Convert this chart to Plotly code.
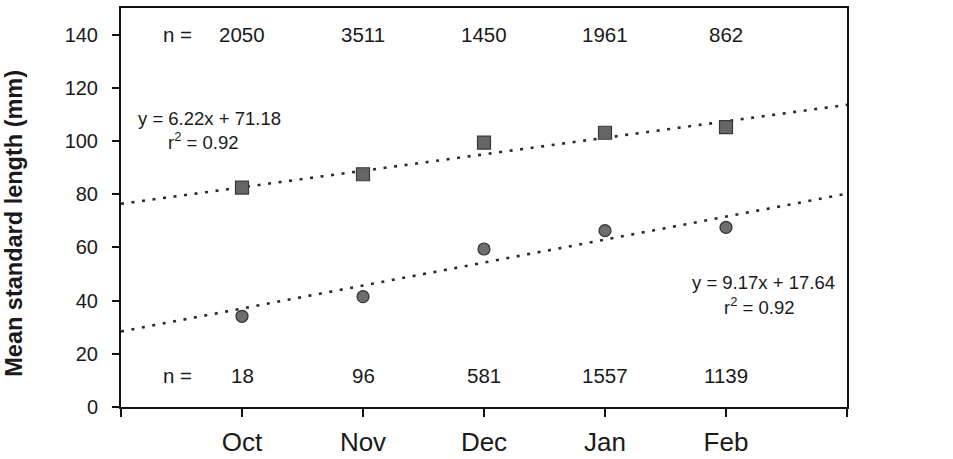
import plotly.graph_objects as go

# ---- data ----
months = ["Oct", "Nov", "Dec", "Jan", "Feb"]
cohort2_length = [82.5, 87.5, 99.4, 103.1, 105.2]   # squares (Cohort II)
cohort1_length = [34.1, 41.5, 59.4, 66.3, 67.5]     # circles (Cohort I)
n_cohort2 = [2050, 3511, 1450, 1961, 862]
n_cohort1 = [18, 96, 581, 1557, 1139]
trend_x = [0, 6]                  # trend lines span the whole category axis
trend2_values = [76.4, 113.6]     # Cohort II trend line at the axis ends
trend1_values = [28.4, 80.2]      # Cohort I trend line at the axis ends
eq2_text = "y = 6.22x + 71.18"
eq1_text = "y = 9.17x + 17.64"
r2_text = "r<sup>2</sup> = 0.92"
y_ticks = [0, 20, 40, 60, 80, 100, 120, 140]

xpos = list(range(1, len(months) + 1))
FONT = "Liberation Sans, Arial, sans-serif"
TXT = "#1a1a1a"

fig = go.Figure()

dot = "3px,7.6px"
fig.add_trace(go.Scatter(x=trend_x, y=trend2_values, mode="lines",
                         line=dict(color="#2a2a2a", width=2.6, dash=dot),
                         hoverinfo="skip", showlegend=False))
fig.add_trace(go.Scatter(x=trend_x, y=trend1_values, mode="lines",
                         line=dict(color="#2a2a2a", width=2.6, dash=dot),
                         hoverinfo="skip", showlegend=False))

fig.add_trace(go.Scatter(x=xpos, y=cohort2_length, mode="markers", name="Cohort II",
                         marker=dict(symbol="square", size=13, color="#666666",
                                     line=dict(color="#3a3a3a", width=1.2)),
                         showlegend=False))
fig.add_trace(go.Scatter(x=xpos, y=cohort1_length, mode="markers", name="Cohort I",
                         marker=dict(symbol="circle", size=12, color="#6e6e6e",
                                     line=dict(color="#333333", width=1.2)),
                         showlegend=False))

NS = 20.5
ann = []
# n labels
ann.append(dict(x=0.47, y=140, text="n =", xref="x", yref="y", showarrow=False,
                font=dict(size=NS, family=FONT, color=TXT)))
ann.append(dict(x=0.47, y=12, text="n =", xref="x", yref="y", showarrow=False,
                font=dict(size=NS, family=FONT, color=TXT)))
for xi, n2, n1 in zip(xpos, n_cohort2, n_cohort1):
    ann.append(dict(x=xi, y=140, text=str(n2), xref="x", yref="y", showarrow=False,
                    font=dict(size=NS, family=FONT, color=TXT)))
    ann.append(dict(x=xi, y=12, text=str(n1), xref="x", yref="y", showarrow=False,
                    font=dict(size=NS, family=FONT, color=TXT)))

# equations
ES = 18.5
ann.append(dict(x=0.73, y=108.6, text=eq2_text, xref="x", yref="y", showarrow=False,
                font=dict(size=ES, family=FONT, color=TXT)))
ann.append(dict(x=0.68, y=100, text=r2_text, xref="x", yref="y", showarrow=False,
                font=dict(size=ES, family=FONT, color=TXT)))
ann.append(dict(x=5.31, y=46.9, text=eq1_text, xref="x", yref="y", showarrow=False,
                font=dict(size=ES, family=FONT, color=TXT)))
ann.append(dict(x=5.27, y=38.1, text=r2_text, xref="x", yref="y", showarrow=False,
                font=dict(size=ES, family=FONT, color=TXT)))

# cohort labels outside the plot
ann.append(dict(x=6.19, y=116.1, text="Cohort II", xref="x", yref="y", showarrow=False,
                xanchor="left", font=dict(size=21, family=FONT, color=TXT)))
ann.append(dict(x=6.19, y=83.1, text="Cohort I", xref="x", yref="y", showarrow=False,
                xanchor="left", font=dict(size=21, family=FONT, color=TXT)))

# y axis title
ann.append(dict(x=-0.147, y=0.46, xref="paper", yref="paper", xanchor="center", yanchor="middle",
                text="<b>Mean standard length (mm)</b>",
                textangle=-90, showarrow=False,
                font=dict(size=23.5, family=FONT, color=TXT)))

fig.update_layout(
    width=953, height=459,
    margin=dict(l=121, r=106, t=8, b=52, autoexpand=False),
    paper_bgcolor="white", plot_bgcolor="white",
    annotations=ann,
    showlegend=False,
)
fig.update_xaxes(range=[0, 6], tickmode="array", tickvals=xpos, ticktext=months,
                 showline=True, linecolor="#111111", linewidth=2, mirror=True,
                 ticks="outside", ticklen=8, tickwidth=1.5, tickcolor="#111111",
                 minor=dict(tickmode="linear", tick0=0, dtick=1, ticks="outside",
                            ticklen=8, tickwidth=1.5, tickcolor="#111111", showgrid=False),
                 showgrid=False, zeroline=False, ticklabelstandoff=3, automargin=False,
                 tickfont=dict(size=26, family=FONT, color=TXT))
fig.update_yaxes(range=[0, 150], tickmode="array", tickvals=y_ticks,
                 showline=True, linecolor="#111111", linewidth=2, mirror=True,
                 ticks="outside", ticklen=7, tickwidth=1.5, tickcolor="#111111",
                 showgrid=False, zeroline=False, ticklabelstandoff=10, automargin=False,
                 tickfont=dict(size=20, family=FONT, color=TXT))

fig.write_html("out.html")
